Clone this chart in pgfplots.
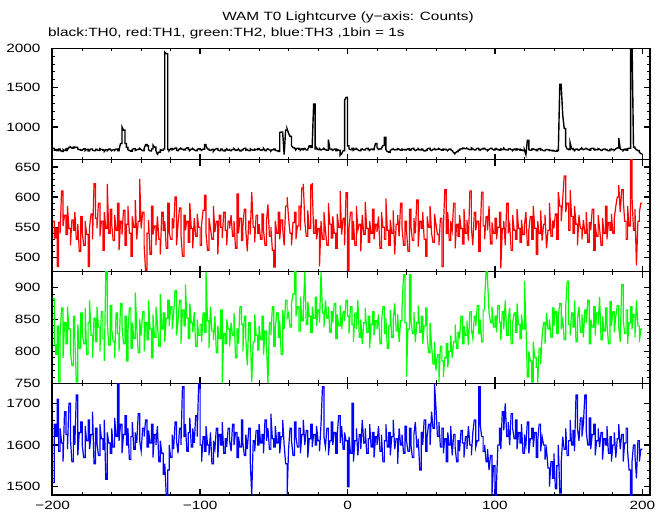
\documentclass[border=0pt]{standalone}
\usepackage{fontspec}
\setmainfont{Liberation Sans}[FakeStretch=1.28]
\usepackage{pgfplots}
\pgfplotsset{compat=1.18}
\usepackage{pgfplotstable}

% TH0 (black), one value per 1 s bin, x = -200 ... 199
\pgfplotstableread[row sep=\\]{
v\\
730\\705\\712\\698\\720\\708\\690\\715\\702\\725\\712\\740\\748\\732\\745\\738\\742\\720\\712\\705\\
708\\722\\700\\715\\695\\712\\720\\704\\698\\716\\710\\702\\724\\714\\706\\690\\712\\700\\718\\708\\
700\\712\\704\\720\\698\\714\\790\\1000\\960\\790\\740\\712\\700\\692\\716\\724\\702\\710\\718\\728\\
712\\700\\725\\775\\760\\712\\695\\720\\770\\745\\700\\655\\680\\712\\705\\720\\1950\\1930\\712\\700\\
725\\710\\718\\732\\705\\698\\722\\730\\715\\708\\720\\735\\712\\702\\718\\725\\710\\698\\715\\722\\
712\\705\\718\\778\\760\\720\\708\\702\\715\\690\\712\\725\\708\\700\\718\\712\\696\\710\\722\\705\\
710\\698\\715\\725\\702\\712\\720\\695\\708\\716\\730\\705\\712\\698\\722\\710\\704\\718\\712\\725\\
718\\705\\712\\728\\700\\715\\722\\708\\695\\712\\720\\704\\698\\690\\930\\935\\925\\650\\960\\975\\
920\\880\\760\\738\\725\\712\\730\\718\\705\\722\\712\\728\\708\\715\\760\\740\\745\\1290\\720\\735\\
712\\725\\708\\718\\730\\712\\705\\840\\720\\712\\706\\718\\700\\715\\705\\640\\660\\700\\1340\\1375\\
760\\722\\712\\730\\705\\718\\725\\710\\698\\715\\722\\708\\716\\730\\712\\705\\720\\712\\725\\790\\
740\\715\\722\\728\\765\\870\\712\\685\\680\\702\\715\\722\\708\\712\\725\\718\\705\\720\\712\\708\\
715\\722\\706\\712\\728\\716\\700\\712\\725\\708\\718\\710\\695\\705\\720\\728\\712\\700\\716\\724\\
710\\718\\724\\712\\705\\720\\715\\708\\702\\718\\712\\700\\672\\665\\685\\705\\716\\722\\732\\728\\
725\\730\\718\\712\\735\\722\\708\\715\\728\\712\\705\\720\\730\\724\\712\\700\\715\\728\\722\\710\\
718\\725\\712\\705\\722\\716\\730\\712\\708\\720\\725\\712\\700\\718\\708\\722\\715\\705\\712\\700\\
708\\650\\830\\712\\705\\718\\722\\712\\700\\715\\725\\708\\712\\698\\705\\715\\710\\700\\702\\695\\
700\\692\\705\\690\\1540\\1510\\1150\\980\\760\\720\\712\\800\\725\\712\\700\\718\\712\\705\\722\\730\\
712\\720\\728\\715\\705\\722\\730\\716\\708\\712\\725\\718\\702\\715\\720\\712\\706\\698\\712\\720\\
712\\705\\722\\735\\860\\720\\712\\700\\718\\705\\725\\730\\2100\\2080\\745\\728\\712\\700\\680\\660\\
}\thzero

% TH1 (red)
\pgfplotstableread[row sep=\\]{
v\\
560\\532\\548\\485\\558\\540\\610\\552\\570\\538\\585\\548\\520\\562\\545\\575\\530\\555\\510\\568\\
542\\520\\560\\538\\485\\550\\572\\530\\622\\565\\548\\590\\535\\560\\512\\575\\548\\622\\540\\580\\
555\\528\\570\\545\\590\\512\\560\\538\\578\\520\\555\\585\\540\\502\\568\\550\\595\\530\\560\\630\\
548\\575\\520\\477\\540\\562\\505\\585\\538\\552\\520\\568\\530\\505\\575\\545\\560\\515\\590\\542\\
530\\565\\548\\600\\520\\555\\582\\538\\502\\570\\545\\560\\525\\590\\548\\515\\565\\535\\572\\550\\
520\\555\\578\\603\\540\\512\\565\\548\\530\\585\\542\\560\\505\\570\\550\\532\\575\\545\\520\\560\\
548\\570\\535\\560\\515\\605\\540\\565\\528\\552\\580\\545\\510\\560\\538\\608\\550\\525\\570\\540\\
555\\530\\572\\545\\520\\560\\588\\535\\550\\512\\484\\560\\540\\575\\530\\562\\548\\520\\585\\600\\
565\\540\\520\\558\\575\\530\\552\\585\\545\\615\\622\\560\\535\\578\\548\\620\\623\\540\\562\\530\\
548\\485\\560\\530\\575\\545\\520\\590\\555\\532\\568\\540\\515\\572\\550\\610\\538\\565\\520\\607\\
477\\548\\575\\530\\560\\520\\585\\545\\555\\510\\570\\538\\592\\548\\525\\560\\540\\580\\530\\555\\
542\\568\\515\\575\\550\\530\\598\\545\\520\\562\\540\\578\\505\\555\\570\\535\\590\\548\\520\\560\\
545\\510\\580\\552\\528\\565\\540\\595\\518\\560\\548\\575\\530\\502\\568\\550\\585\\540\\525\\572\\
555\\538\\520\\565\\485\\548\\612\\540\\575\\528\\560\\545\\590\\515\\555\\535\\570\\548\\522\\580\\
540\\562\\528\\610\\550\\520\\575\\545\\560\\510\\538\\608\\552\\530\\568\\545\\585\\522\\558\\540\\
565\\530\\550\\575\\482\\548\\560\\520\\590\\540\\555\\512\\570\\545\\530\\580\\548\\525\\562\\538\\
552\\575\\520\\545\\568\\530\\585\\548\\505\\560\\540\\578\\528\\555\\570\\515\\545\\590\\535\\560\\
548\\572\\530\\608\\585\\560\\598\\635\\575\\590\\545\\612\\568\\540\\585\\555\\520\\570\\548\\530\\
562\\540\\575\\525\\558\\545\\580\\512\\555\\535\\570\\548\\520\\565\\540\\585\\530\\558\\545\\572\\
540\\565\\585\\600\\620\\575\\612\\598\\560\\530\\585\\552\\662\\600\\545\\580\\487\\560\\575\\590\\
}\thone

% TH2 (green)
\pgfplotstableread[row sep=\\]{
v\\
883\\810\\795\\840\\752\\825\\868\\790\\845\\812\\870\\835\\800\\778\\855\\820\\752\\842\\805\\860\\
830\\812\\868\\795\\845\\880\\825\\790\\852\\815\\870\\838\\800\\862\\820\\785\\925\\845\\810\\872\\
835\\815\\790\\860\\828\\800\\875\\840\\812\\855\\785\\830\\868\\805\\845\\820\\892\\838\\798\\850\\
825\\862\\800\\845\\818\\880\\835\\790\\858\\822\\870\\845\\808\\890\\835\\860\\815\\852\\880\\840\\
870\\835\\858\\895\\825\\848\\880\\812\\865\\840\\905\\852\\820\\875\\845\\830\\862\\808\\850\\825\\
842\\815\\860\\830\\925\\848\\805\\870\\832\\818\\855\\798\\840\\820\\865\\750\\828\\812\\850\\835\\
808\\845\\825\\860\\790\\835\\812\\870\\842\\800\\855\\820\\778\\845\\830\\752\\815\\858\\825\\802\\
840\\818\\855\\795\\832\\812\\750\\845\\825\\870\\808\\838\\860\\822\\848\\795\\865\\835\\880\\852\\
860\\838\\875\\890\\925\\855\\870\\832\\885\\848\\865\\925\\842\\878\\855\\830\\870\\852\\885\\840\\
865\\845\\925\\860\\838\\880\\852\\870\\830\\862\\845\\875\\820\\858\\840\\872\\835\\862\\848\\880\\
855\\828\\870\\842\\815\\860\\835\\880\\822\\850\\812\\845\\868\\830\\855\\805\\842\\862\\825\\848\\
835\\858\\812\\845\\870\\828\\852\\805\\840\\865\\822\\850\\875\\832\\858\\815\\848\\870\\920\\845\\
760\\835\\920\\850\\828\\862\\815\\845\\872\\830\\855\\812\\840\\868\\825\\798\\845\\810\\780\\815\\
770\\795\\752\\808\\785\\760\\790\\812\\775\\800\\825\\790\\815\\842\\805\\830\\820\\855\\812\\840\\
825\\848\\810\\862\\835\\820\\855\\840\\872\\828\\850\\815\\865\\880\\925\\912\\860\\845\\870\\838\\
855\\830\\872\\845\\818\\862\\835\\880\\825\\850\\868\\812\\845\\860\\830\\875\\842\\820\\858\\835\\
910\\845\\760\\800\\785\\752\\815\\790\\775\\750\\805\\780\\825\\845\\812\\860\\835\\850\\822\\868\\
840\\862\\828\\855\\875\\835\\850\\818\\870\\910\\842\\825\\860\\838\\880\\815\\852\\870\\830\\858\\
822\\865\\845\\880\\812\\850\\838\\870\\825\\860\\842\\885\\818\\855\\832\\868\\845\\812\\878\\840\\
862\\830\\855\\872\\838\\815\\905\\850\\828\\865\\812\\845\\870\\835\\858\\822\\880\\840\\815\\835\\
}\thtwo

% TH3 (blue)
\pgfplotstableread[row sep=\\]{
v\\
1510\\1650\\1620\\1710\\1585\\1640\\1605\\1560\\1680\\1625\\1590\\1700\\1615\\1560\\1645\\1600\\1720\\1575\\1630\\1655\\
1600\\1570\\1645\\1610\\1660\\1590\\1625\\1680\\1555\\1640\\1605\\1575\\1650\\1615\\1590\\1660\\1518\\1630\\1605\\1580\\
1640\\1595\\1665\\1620\\1748\\1610\\1650\\1580\\1625\\1670\\1600\\1640\\1565\\1620\\1655\\1590\\1630\\1605\\1675\\1610\\
1585\\1640\\1620\\1660\\1595\\1635\\1605\\1650\\1570\\1625\\1600\\1645\\1560\\1610\\1580\\1530\\1555\\1480\\1540\\1600\\
1570\\1625\\1590\\1655\\1610\\1580\\1640\\1600\\1740\\1620\\1650\\1585\\1630\\1665\\1595\\1640\\1605\\1670\\1620\\1748\\
1600\\1560\\1620\\1585\\1645\\1600\\1575\\1630\\1555\\1610\\1590\\1640\\1570\\1625\\1600\\1655\\1580\\1615\\1595\\1640\\
1610\\1585\\1650\\1600\\1630\\1570\\1620\\1595\\1660\\1605\\1575\\1625\\1590\\1640\\1560\\1480\\1610\\1585\\1635\\1600\\
1650\\1605\\1625\\1580\\1660\\1610\\1640\\1590\\1675\\1615\\1595\\1645\\1605\\1630\\1580\\1620\\1660\\1600\\1555\\1480\\
1590\\1640\\1610\\1575\\1655\\1620\\1595\\1640\\1580\\1625\\1660\\1600\\1635\\1570\\1615\\1650\\1595\\1625\\1600\\1645\\
1610\\1585\\1650\\1740\\1620\\1595\\1640\\1575\\1610\\1655\\1600\\1630\\1580\\1625\\1670\\1605\\1645\\1590\\1630\\1610\\
1500\\1620\\1580\\1700\\1560\\1610\\1640\\1575\\1625\\1590\\1660\\1605\\1640\\1580\\1615\\1650\\1595\\1630\\1570\\1620\\
1600\\1645\\1585\\1625\\1560\\1610\\1650\\1595\\1630\\1575\\1620\\1660\\1590\\1615\\1555\\1640\\1600\\1625\\1580\\1645\\
1610\\1585\\1640\\1600\\1570\\1625\\1655\\1595\\1615\\1540\\1630\\1600\\1660\\1585\\1620\\1650\\1600\\1680\\1640\\1748\\
1690\\1620\\1655\\1595\\1640\\1580\\1615\\1560\\1630\\1600\\1645\\1575\\1625\\1595\\1560\\1610\\1585\\1635\\1605\\1570\\
1620\\1590\\1645\\1600\\1575\\1630\\1660\\1595\\1610\\1740\\1650\\1620\\1585\\1600\\1560\\1590\\1540\\1575\\1480\\1550\\
1480\\1500\\1600\\1640\\1590\\1680\\1635\\1700\\1620\\1655\\1600\\1675\\1640\\1615\\1660\\1590\\1630\\1605\\1650\\1580\\
1625\\1600\\1655\\1580\\1615\\1640\\1595\\1630\\1570\\1610\\1650\\1585\\1620\\1600\\1565\\1590\\1545\\1500\\1560\\1520\\
1580\\1495\\1550\\1600\\1485\\1560\\1620\\1590\\1640\\1575\\1610\\1660\\1600\\1635\\1585\\1720\\1640\\1610\\1665\\1620\\
1650\\1720\\1630\\1600\\1665\\1590\\1625\\1650\\1575\\1610\\1640\\1595\\1630\\1565\\1615\\1600\\1645\\1580\\1620\\1560\\
1600\\1630\\1570\\1615\\1650\\1590\\1625\\1560\\1605\\1640\\1585\\1540\\1480\\1560\\1600\\1575\\1520\\1610\\1560\\1590\\
}\ththree

% step (histogram) outline: every bin value used at its left and right bin edge
\newcommand{\makesteps}[2]{%
  \pgfplotstablenew[
    create on use/sx/.style={create col/expr={-200+floor((\pgfplotstablerow+1)/2)}},
    create on use/sy/.style={create col/assign/.code={%
        \pgfmathtruncatemacro\srcrow{floor(\pgfplotstablerow/2)}%
        \pgfplotstablegetelem{\srcrow}{v}\of#1%
        \pgfkeyslet{/pgfplots/table/create col/next content}\pgfplotsretval}},
    columns={sx,sy}]{800}#2}
\makesteps{\thzero}{\thzeroS}
\makesteps{\thone}{\thoneS}
\makesteps{\thtwo}{\thtwoS}
\makesteps{\ththree}{\ththreeS}

\pgfplotsset{
  panel/.style={
    scale only axis, width=598bp, height=111.7bp, anchor=south west,
    xmin=-200.5, xmax=205.2,
    xtick={-200,-100,0,100,200}, minor x tick num=4,
    xticklabels={},
    minor y tick num=4,
    tick align=inside,
    major tick length=6bp, minor tick length=3bp,
    major tick style={line width=1.3bp, black},
    minor tick style={line width=0.8bp, black},
    axis line style={line width=1.2bp},
    tick label style={font=\fontsize{12bp}{14bp}\selectfont},
    yticklabel style={xshift=-8bp},
    xticklabel style={yshift=-3bp},
    clip=true,
  },
}

\begin{document}
\begin{tikzpicture}
\path[use as bounding box] (0bp,0bp) rectangle (669bp,515bp);

\begin{axis}[panel, at={(52bp,355.1bp)}, ymin=582, ymax=2000,
  ytick={1000,1500,2000}, yticklabels={1000,1500,2000}]
  \addplot[sharp plot, draw=black, line width=1.4bp] table[x=sx, y=sy] {\thzeroS};
\end{axis}

\begin{axis}[panel, at={(52bp,243.4bp)}, ymin=476.5, ymax=661.6,
  ytick={500,550,600,650}, yticklabels={500,550,600,650}]
  \addplot[sharp plot, draw=red, line width=1.2bp] table[x=sx, y=sy] {\thoneS};
\end{axis}

\begin{axis}[panel, at={(52bp,131.7bp)}, ymin=750, ymax=925,
  ytick={750,800,850,900}, yticklabels={750,800,850,900}]
  \addplot[sharp plot, draw={rgb,255:red,0;green,255;blue,0}, line width=1.2bp] table[x=sx, y=sy] {\thtwoS};
\end{axis}

\begin{axis}[panel, at={(52bp,20bp)}, ymin=1480, ymax=1748,
  ytick={1500,1600,1700}, yticklabels={1500,1600,1700},
  xticklabels={−200,−100,0,100,200}]
  \addplot[sharp plot, draw=blue, line width=1.2bp] table[x=sx, y=sy] {\ththreeS};
\end{axis}

\node[anchor=base, inner sep=0, font=\fontsize{12bp}{14bp}\selectfont] at (348bp,494.3bp) {WAM T0 Lightcurve (y−axis: Counts)};
\node[anchor=base west, inner sep=0, font=\fontsize{12bp}{14bp}\selectfont] at (48bp,478.3bp) {black:TH0, red:TH1, green:TH2, blue:TH3 ,1bin = 1s};
\end{tikzpicture}
\end{document}
